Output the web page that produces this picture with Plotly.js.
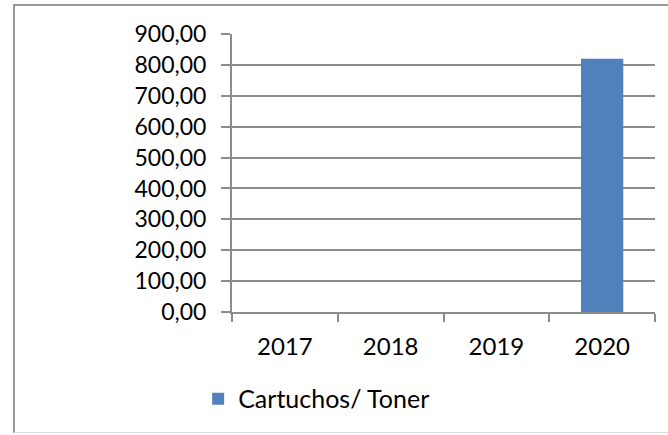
<!DOCTYPE html>
<html>
<head>
<meta charset="utf-8">
<script src="https://cdn.plot.ly/plotly-3.0.1.min.js"></script>
<style>
html,body{margin:0;padding:0;background:#fff;}
#wrap{position:relative;width:668px;height:435px;overflow:hidden;}
#frame{position:absolute;left:13px;top:4px;width:680px;height:429px;border:2px solid #999;box-sizing:border-box;border-bottom:1px solid #ddd;pointer-events:none;z-index:5;}
#chart{position:absolute;left:0;top:0;width:668px;height:435px;}
</style>
</head>
<body>
<div id="wrap"><div id="chart"></div><div id="frame"></div></div>
<script>
const categories = ["2017", "2018", "2019", "2020"];
const seriesName = "Cartuchos/ Toner";
const values = [0, 0, 0, 820];
const yTicks = [0, 100, 200, 300, 400, 500, 600, 700, 800, 900];

const font = "Lato, 'Open Sans', sans-serif";
Plotly.newPlot("chart", [{
  type: "bar",
  x: categories,
  y: values,
  name: seriesName,
  marker: {color: "#4F81BD"},
  showlegend: true,
  hoverinfo: "x+y"
}], {
  width: 668, height: 435,
  margin: {l: 232, r: 13, t: 34, b: 123},
  paper_bgcolor: "#fff", plot_bgcolor: "#fff",
  separators: ",.",
  bargap: 0.6,
  font: {family: font, size: 24, color: "#000"},
  xaxis: {
    type: "category",
    showline: true, linecolor: "#8c8c8c", linewidth: 2,
    ticks: "outside", tickson: "boundaries", ticklen: 8, tickcolor: "#8c8c8c", tickwidth: 2,
    showgrid: false, zeroline: false, ticklabelstandoff: 12,
    tickfont: {family: font, size: 24, color: "#000"}
  },
  yaxis: {
    range: [0, 900], tickvals: yTicks, tickformat: ".2f",
    showline: true, linecolor: "#8c8c8c", linewidth: 2,
    ticks: "outside", ticklen: 9, tickcolor: "#8c8c8c", tickwidth: 2,
    showgrid: true, gridcolor: "#8c8c8c", gridwidth: 2,
    zeroline: false, ticklabelstandoff: 10,
    tickfont: {family: font, size: 23, color: "#000"}
  },
  showlegend: true,
  legend: {
    orientation: "h", x: -0.08, xanchor: "left", y: -0.23, yanchor: "top",
    font: {family: font, size: 25, color: "#000"},
    itemwidth: 30
  }
}, {staticPlot: true});
</script>
</body>
</html>
